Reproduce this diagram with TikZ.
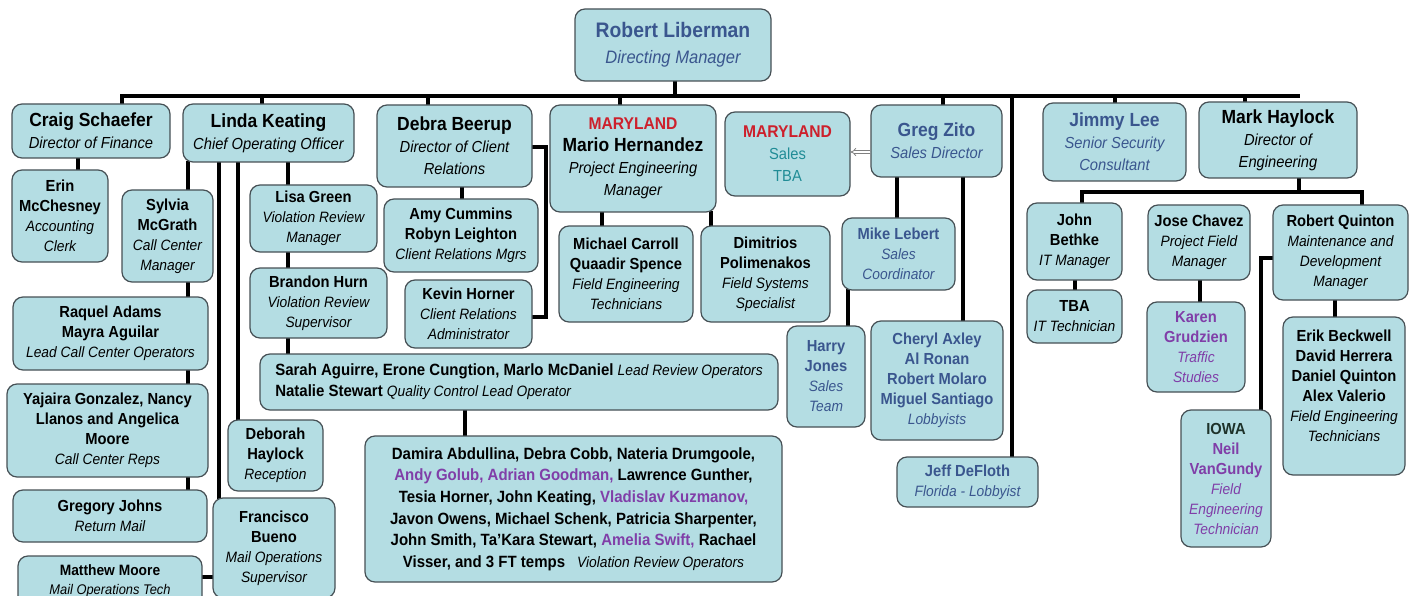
\documentclass[tikz,border=0pt]{standalone}
\usepackage{fontspec}
\setmainfont{Liberation Sans}[FakeStretch=0.92]
\usetikzlibrary{arrows.meta,backgrounds}

\definecolor{boxfill}{RGB}{180,221,227}
\definecolor{boxline}{RGB}{70,80,85}
\definecolor{bluetxt}{RGB}{58,86,142}
\definecolor{tealtxt}{RGB}{32,140,150}
\definecolor{mdred}{RGB}{205,32,44}
\definecolor{purptxt}{RGB}{128,62,168}
\definecolor{iowatxt}{RGB}{30,50,42}

\newcommand{\bossname}{\fontsize{19}{22}\selectfont\bfseries}
\newcommand{\bossrole}{\fontsize{16}{22}\selectfont\mdseries\itshape}
\newcommand{\staffname}{\fontsize{16}{20}\selectfont\bfseries}
\newcommand{\staffrole}{\fontsize{15}{20}\selectfont\mdseries\itshape}
\newcommand{\smallrole}{\fontsize{15}{21}\selectfont\mdseries\itshape}

\tikzset{
  box/.style={draw=boxline, fill=boxfill, line width=1.2pt, rounded corners=10pt,
    align=center, inner sep=2pt, font=\staffname},
  boss/.style={box, font=\bossname},
  sz/.style 2 args={minimum width=#1pt, minimum height=#2pt},
  link/.style={line width=4pt, line cap=rect},
  arrowlink/.style={draw=gray, line width=0.8pt, double=white, double distance=2pt, -{Implies}},
}

\begin{document}
\begin{tikzpicture}[x=1pt,y=-1pt]
  \useasboundingbox (0,0) rectangle (1413,596);
  \clip (0,0) rectangle (1413,596);

  % top row
  \node[boss, sz={196}{72}, text=bluetxt, font=\fontsize{21}{24}\selectfont\bfseries] (liberman) at (673,45)
    {Robert Liberman\\[2pt]\fontsize{18}{22}\selectfont\mdseries\itshape Directing Manager};
  \node[boss, sz={158}{54}] (craig) at (91,131) {Craig Schaefer\\\bossrole Director of Finance};
  \node[boss, sz={171}{58}] (linda) at (268.5,133) {Linda Keating\\\bossrole Chief Operating Officer};
  \node[boss, sz={155}{82}] (debra) at (454.5,146) {Debra Beerup\\\bossrole Director of Client\\\bossrole Relations};
  \node[boss, sz={166}{107}] (mario) at (633,158.5)
    {\color{mdred}\fontsize{17}{22}\selectfont MARYLAND\\Mario Hernandez\\\bossrole Project Engineering\\\bossrole Manager};
  \node[boss, sz={125}{84}] (mdsales) at (787.5,154)
    {\color{mdred}\fontsize{17}{22}\selectfont MARYLAND\\\color{tealtxt}\fontsize{16}{22}\selectfont\mdseries Sales\\\color{tealtxt}\fontsize{16}{22}\selectfont\mdseries TBA};
  \node[boss, sz={131}{72}, text=bluetxt] (greg) at (936.5,141) {Greg Zito\\\bossrole Sales Director};
  \node[boss, sz={143}{78}, text=bluetxt] (jimmy) at (1114.5,142) {Jimmy Lee\\\bossrole Senior Security\\\bossrole Consultant};
  \node[boss, sz={158}{76}] (mark) at (1278,140) {Mark Haylock\\\bossrole Director of\\\bossrole Engineering};

  % finance and operations
  \node[box, sz={96}{92}] (erin) at (60,216) {Erin\\McChesney\\\staffrole Accounting\\\staffrole Clerk};
  \node[box, sz={91}{92}] (sylvia) at (167.5,236) {Sylvia\\McGrath\\\staffrole Call Center\\\staffrole Manager};
  \node[box, sz={195}{73}] (raquel) at (110.5,333.5) {Raquel Adams\\Mayra Aguilar\\\staffrole Lead Call Center Operators};
  \node[box, sz={201}{93}] (yajaira) at (107.5,430.5) {Yajaira Gonzalez, Nancy\\Llanos and Angelica\\Moore\\\staffrole Call Center Reps};
  \node[box, sz={194}{52}] (gregory) at (110,516) {Gregory Johns\\\staffrole Return Mail};
  \node[box, sz={184}{50}, font=\fontsize{15}{19}\selectfont\bfseries] (matthew) at (110,581)
    {Matthew Moore\\\fontsize{14}{19}\selectfont\mdseries\itshape Mail Operations Tech};
  \node[box, sz={122}{100}] (francisco) at (274,548) {Francisco\\Bueno\\\staffrole Mail Operations\\\staffrole Supervisor};
  \node[box, sz={95}{71}] (deborah) at (275.5,455.5) {Deborah\\Haylock\\\staffrole Reception};
  \node[box, sz={127}{67}] (lisa) at (313.5,218.5) {Lisa Green\\\staffrole Violation Review\\\staffrole Manager};
  \node[box, sz={137}{70}] (brandon) at (318.5,303) {Brandon Hurn\\\staffrole Violation Review\\\staffrole Supervisor};
  \node[box, sz={518}{56}, align=left, font=\fontsize{16.3}{21}\selectfont\bfseries] (sarah) at (519,382)
    {Sarah Aguirre, Erone Cungtion, Marlo McDaniel {\smallrole Lead Review Operators}\\Natalie Stewart {\smallrole Quality Control Lead Operator}};
  \node[box, sz={417}{146}, font=\fontsize{16.3}{21.6}\selectfont\bfseries] (damira) at (573.5,509)
    {Damira Abdullina, Debra Cobb, Nateria Drumgoole,\\
     \textcolor{purptxt}{Andy Golub, Adrian Goodman,} Lawrence Gunther,\\
     Tesia Horner, John Keating, \textcolor{purptxt}{Vladislav Kuzmanov,}\\
     Javon Owens, Michael Schenk, Patricia Sharpenter,\\
     John Smith, Ta'Kara Stewart, \textcolor{purptxt}{Amelia Swift,} Rachael\\
     Visser, and 3 FT temps\hspace{12pt}{\smallrole Violation Review Operators}};

  % client relations and engineering
  \node[box, sz={154}{73}] (amy) at (461,235.5) {Amy Cummins\\Robyn Leighton\\\staffrole Client Relations Mgrs};
  \node[box, sz={127}{68}] (kevin) at (468.5,314) {Kevin Horner\\\staffrole Client Relations\\\staffrole Administrator};
  \node[box, sz={134}{96}] (michael) at (626,274) {Michael Carroll\\Quaadir Spence\\\staffrole Field Engineering\\\staffrole Technicians};
  \node[box, sz={129}{96}] (dimitrios) at (765.5,274) {Dimitrios\\Polimenakos\\\staffrole Field Systems\\\staffrole Specialist};

  % sales
  \node[box, sz={113}{72}, text=bluetxt] (mike) at (898.5,254) {Mike Lebert\\\staffrole Sales\\\staffrole Coordinator};
  \node[box, sz={78}{101}, text=bluetxt] (harry) at (826,376.5) {Harry\\Jones\\\staffrole Sales\\\staffrole Team};
  \node[box, sz={132}{119}, text=bluetxt] (cheryl) at (937,380.5)
    {Cheryl Axley\\Al Ronan\\Robert Molaro\\Miguel Santiago\\\staffrole Lobbyists};
  \node[box, sz={141}{50}, text=bluetxt] (jeff) at (967.5,482) {Jeff DeFloth\\\staffrole Florida - Lobbyist};

  % engineering
  \node[box, sz={95}{77}] (john) at (1074.5,241.5) {John\\Bethke\\\staffrole IT Manager};
  \node[box, sz={95}{53}] (tba) at (1074.5,316.5) {TBA\\\staffrole IT Technician};
  \node[box, sz={102}{75}] (jose) at (1199,242.5) {Jose Chavez\\\staffrole Project Field\\\staffrole Manager};
  \node[box, sz={98}{90}, text=purptxt] (karen) at (1196,347) {Karen\\Grudzien\\\staffrole Traffic\\\staffrole Studies};
  \node[box, sz={135}{95}] (rq) at (1340.5,252.5) {Robert Quinton\\\staffrole Maintenance and\\\staffrole Development\\\staffrole Manager};
  \node[box, sz={90}{137}, text=purptxt] (iowa) at (1226,478.5)
    {\color{iowatxt}IOWA\\Neil\\VanGundy\\\staffrole Field\\\staffrole Engineering\\\staffrole Technician};
  \node[box, sz={122}{158}] (erik) at (1344,396)
    {Erik Beckwell\\David Herrera\\Daniel Quinton\\Alex Valerio\\\staffrole Field Engineering\\\staffrole Technicians\\~};

  \draw[arrowlink] (greg.west |- 0,152) -- (mdsales.east |- 0,152);

  \begin{pgfonlayer}{background}
    % main bus
    \coordinate (busl) at (122,96);
    \coordinate (busr) at (1298,96);
    \draw[link] (busl) -- (busr);
    \draw[link] (liberman.south -| 675,0) -- (busl -| 675,0);
    \draw[link] (craig.north -| busl) -- (busl);
    \draw[link] (linda.north -| 262,0) -- (busl -| 262,0);
    \draw[link] (debra.north -| 428,0) -- (busl -| 428,0);
    \draw[link] (mario.north -| 620,0) -- (busl -| 620,0);
    \draw[link] (greg.north -| 943,0) -- (busl -| 943,0);
    \draw[link] (jimmy.north -| 1115,0) -- (busl -| 1115,0);
    \draw[link] (mark.north -| 1245,0) -- (busl -| 1245,0);
    \draw[link] (jeff.north -| 1012,0) -- (busl -| 1012,0);

    % finance, operations
    \draw[link] (craig.south -| 78,0) -- (erin.north -| 78,0);
    \draw[link] (linda.south -| 188,0) -- (gregory.north -| 188,0);
    \draw[link] (linda.south -| 219,0) -- (francisco.north -| 219,0);
    \draw[link] (linda.south -| 238,0) -- (deborah.north -| 238,0);
    \draw[link] (linda.south -| 288,0) -- (sarah.north -| 288,0);
    \draw[link] (sarah.south -| 465,0) -- (damira.north -| 465,0);
    \draw[link] (matthew.east |- 0,577) -- (francisco.west |- 0,577);

    % client relations, maryland
    \draw[link] (debra.south -| 462,0) -- (amy.north -| 462,0);
    \draw[link] (debra.east |- 0,147) -- ++(13,0) |- (kevin.east |- 0,317);
    \draw[link] (mario.south -| 602,0) -- (michael.north -| 602,0);
    \draw[link] (mario.south -| 711,0) -- (dimitrios.north -| 711,0);

    % sales
    \draw[link] (greg.south -| 897,0) -- (mike.north -| 897,0);
    \draw[link] (mike.south -| 848,0) -- (harry.north -| 848,0);
    \draw[link] (greg.south -| 963,0) -- (cheryl.north -| 963,0);

    % engineering
    \coordinate (mbusl) at (1082,192);
    \coordinate (mbusr) at (1362,192);
    \draw[link] (mark.south -| 1299,0) -- (mbusl -| 1299,0);
    \draw[link] (john.north -| mbusl) -- (mbusl) -- (mbusr) -- (rq.north -| mbusr);
    \draw[link] (john.south -| 1075,0) -- (tba.north -| 1075,0);
    \draw[link] (jose.south -| 1200,0) -- (karen.north -| 1200,0);
    \draw[link] (rq.west |- 0,258) -| (iowa.north -| 1261,0);
    \draw[link] (rq.south -| 1335,0) -- (erik.north -| 1335,0);
  \end{pgfonlayer}
\end{tikzpicture}
\end{document}
